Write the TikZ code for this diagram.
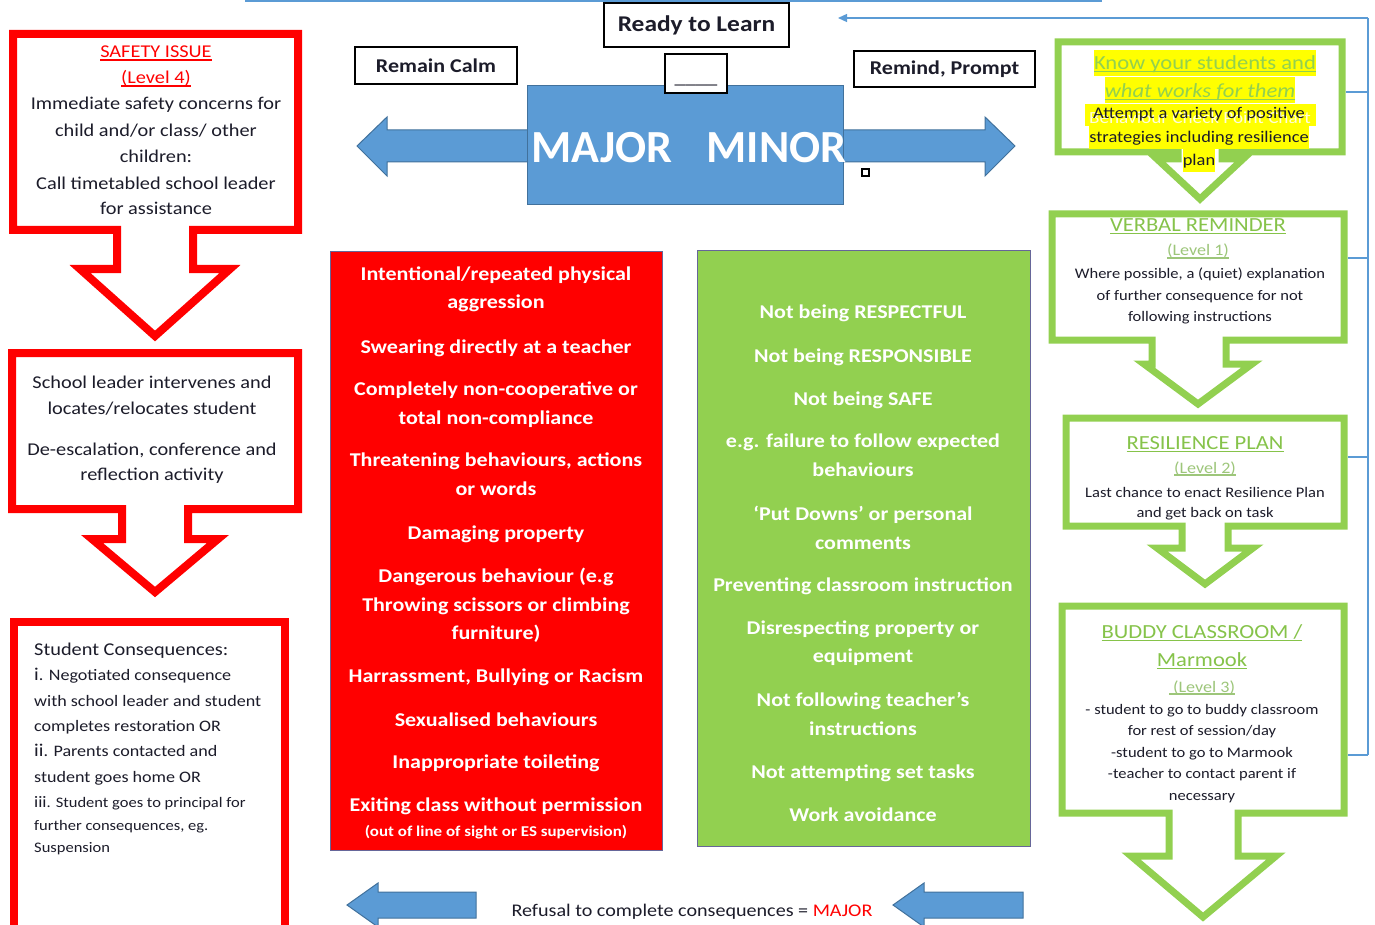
\documentclass[tikz,border=0pt]{standalone}
\usepackage{fontspec}
\setmainfont{Carlito}[FakeStretch=1.13]
\newfontfamily\plainf{Carlito}
\newcommand{\uln}[1]{\setbox0\hbox{#1}\leavevmode\rlap{\rule[-2.6pt]{\wd0}{1.4pt}}\box0}
\usetikzlibrary{arrows.meta}
\definecolor{bl}{HTML}{5B9BD5}
\definecolor{bldark}{HTML}{41719C}
\definecolor{rd}{HTML}{FF0000}
\definecolor{gr}{HTML}{92D050}
\definecolor{grt}{HTML}{86C34A}
\definecolor{grl}{HTML}{9DC67A}
\definecolor{txt}{HTML}{1C1C2A}
\definecolor{hl}{HTML}{FFFF00}
\newcommand{\fs}[2]{\fontsize{#1}{#2}\selectfont}
\newcommand{\tline}[5]{\node[#1] (#2) at (#3,#4) {#5};}
\begin{document}
\begin{tikzpicture}[x=1pt,y=-1pt,
  blackbox/.style={draw=black, line width=1.6pt, fill=white, inner sep=0pt, font=\fs{19.5}{24}\bfseries, text=txt},
  redflow/.style={draw=rd, line width=8pt, fill=white, line join=miter, miter limit=10},
  greenflow/.style={draw=gr, line width=7pt, fill=white, line join=miter, miter limit=10},
  bluearrow/.style={fill=bl, draw=bldark, line width=1pt, line join=miter},
  conn/.style={draw=bl, line width=1.3pt},
  bt/.style={anchor=base, inner sep=0pt},
  majt/.style={bt, text=white, font=\fs{19.5}{22}\bfseries},
  majs/.style={bt, text=white, font=\fs{15}{16}\bfseries},
  lt/.style={bt, text=txt, font=\fs{18}{22}},
  lth/.style={bt, text=rd, font=\fs{18}{22}},
  ct/.style={bt, anchor=base west, text=txt, font=\fs{16}{20}},
  cts/.style={bt, anchor=base west, text=txt, font=\fs{14.6}{18}},
  gh/.style={bt, text=grt, font=\fs{20}{24}},
  ghl/.style={bt, text=grl, font=\fs{16}{20}},
  gt/.style={bt, text=txt, font=\fs{14.6}{18}},
]
\useasboundingbox (0,0) rectangle (1375,925);

% top thin line
\draw[conn, line width=2pt] (245,1) -- (1102,1);

% ---------- blue double arrow and centre box ----------
\draw[bluearrow] (357,146) -- (387,117) -- (387,130) -- (985,130) -- (985,117) -- (1015,146)
  -- (985,176) -- (985,162) -- (387,162) -- (387,176) -- cycle;
\node[fill=bl, draw=bldark, line width=1pt, minimum width=316pt, minimum height=119pt, inner sep=0pt] (mm) at (685,145.5) {};
\node[text=white, font=\plainf\fs{46}{50}\bfseries, inner sep=0pt] (mmt) at (689,148) {MAJOR\hspace{34pt}MINOR};
\node[draw=black, line width=1.2pt, minimum size=7pt, inner sep=0pt] (sq) at (865.5,172.5) {};

% ---------- black label boxes ----------
\node[blackbox, minimum width=185pt, minimum height=44pt, font=\fs{22.5}{26}\bfseries] (rtl) at (696.5,25) {Ready to Learn};
\node[blackbox, minimum width=162pt, minimum height=37pt] (calm) at (436,65.5) {Remain Calm};
\node[blackbox, minimum width=181pt, minimum height=36pt] (rp) at (944.5,69) {Remind, Prompt};
\node[blackbox, minimum width=62pt, minimum height=39pt] (blank) at (696,73.5) {};
\node[bt, font=\fs{19}{22}, text=txt] (blanktxt) at (696,84) {\_\_\_\_};

% ---------- red MAJOR box ----------
\node[fill=rd, draw=gray!80!blue, line width=1pt, minimum width=332pt, minimum height=598pt, inner sep=0pt] (redbox) at (496,551) {};
\tline{majt}{r1}{496}{280}{Intentional/repeated physical}
\tline{majt}{r2}{496}{308}{aggression}
\tline{majt}{r3}{496}{353}{Swearing directly at a teacher}
\tline{majt}{r4}{496}{395}{Completely non-cooperative or}
\tline{majt}{r5}{496}{424}{total non-compliance}
\tline{majt}{r6}{496}{466}{Threatening behaviours, actions}
\tline{majt}{r7}{496}{495}{or words}
\tline{majt}{r8}{496}{539}{Damaging property}
\tline{majt}{r9}{496}{582}{Dangerous behaviour (e.g}
\tline{majt}{r10}{496}{611}{Throwing scissors or climbing}
\tline{majt}{r11}{496}{639}{furniture)}
\tline{majt}{r12}{496}{682}{Harrassment, Bullying or Racism}
\tline{majt}{r13}{496}{726}{Sexualised behaviours}
\tline{majt}{r14}{496}{768}{Inappropriate toileting}
\tline{majt}{r15}{496}{811}{Exiting class without permission}
\tline{majs}{r16}{496}{836}{(out of line of sight or ES supervision)}

% ---------- green MINOR box ----------
\node[fill=gr, draw=gray!80!blue, line width=1pt, minimum width=333pt, minimum height=595pt, inner sep=0pt] (greenbox) at (863.5,548.5) {};
\tline{majt}{m1}{863}{318}{Not being RESPECTFUL}
\tline{majt}{m2}{863}{362}{Not being RESPONSIBLE}
\tline{majt}{m3}{863}{405}{Not being SAFE}
\tline{majt}{m4}{863}{447}{e.g. failure to follow expected}
\tline{majt}{m5}{863}{476}{behaviours}
\tline{majt}{m6}{863}{520}{‘Put Downs’ or personal}
\tline{majt}{m7}{863}{549}{comments}
\tline{majt}{m8}{863}{591}{Preventing classroom instruction}
\tline{majt}{m9}{863}{634}{Disrespecting property or}
\tline{majt}{m10}{863}{662}{equipment}
\tline{majt}{m11}{863}{706}{Not following teacher’s}
\tline{majt}{m12}{863}{735}{instructions}
\tline{majt}{m13}{863}{778}{Not attempting set tasks}
\tline{majt}{m14}{863}{821}{Work avoidance}

% ---------- left red flow ----------
\draw[redflow] (13,34) -- (298,34) -- (298,230) -- (193,230) -- (193,269) -- (230,269) -- (155,336)
  -- (80,269) -- (117,269) -- (117,230) -- (13,230) -- cycle;
\tline{lth}{s1}{156}{58}{\uln{SAFETY ISSUE}}
\tline{lth}{s2}{156}{84}{\uln{(Level 4)}}
\tline{lt}{s3}{156}{110}{Immediate safety concerns for}
\tline{lt}{s4}{156}{137}{child and/or class/ other}
\tline{lt}{s5}{156}{163}{children:}
\tline{lt}{s6}{156}{190}{Call timetabled school leader}
\tline{lt}{s7}{156}{215}{for assistance}

\draw[redflow] (12,353) -- (298,353) -- (298,509) -- (188,509) -- (188,539) -- (218,539) -- (155,592)
  -- (92,539) -- (122,539) -- (122,509) -- (12,509) -- cycle;
\tline{lt}{l1}{152}{388}{School leader intervenes and}
\tline{lt}{l2}{152}{414}{locates/relocates student}
\tline{lt}{l3}{152}{455}{De-escalation, conference and}
\tline{lt}{l4}{152}{480}{reflection activity}

\draw[redflow] (14,622) rectangle (285,940);
\tline{ct}{c1}{34}{655}{\fs{18}{22}Student Consequences:}
\tline{ct}{c2}{34}{680}{{\fs{18}{22}i}. Negotiated consequence}
\tline{ct}{c3}{34}{706}{with school leader and student}
\tline{ct}{c4}{34}{731}{completes restoration OR}
\tline{ct}{c5}{34}{756}{{\fs{18}{22}ii}. Parents contacted and}
\tline{ct}{c6}{34}{782}{student goes home OR}
\tline{cts}{c7}{34}{807}{{\fs{16}{20}iii}. Student goes to principal for}
\tline{cts}{c8}{34}{830}{further consequences, eg.}
\tline{cts}{c9}{34}{852}{Suspension}

% ---------- right green flow ----------
\draw[greenflow] (1058,42) -- (1342,42) -- (1342,152) -- (1222,152) -- (1222,159) -- (1243,159) -- (1200,199)
  -- (1157,159) -- (1178,159) -- (1178,152) -- (1058,152) -- cycle;
\node[bt, fill=hl, text=gr, font=\fs{20}{24}, text height=19.5pt, text depth=6.5pt] (k1) at (1205,69.5) {\uln{Know your students and}};
\node[bt, fill=hl, text=gr, font=\fs{20}{24}\itshape, text height=20.5pt, text depth=5.5pt] (k2) at (1200,97.5) {\uln{what works for them}};
\node[bt, fill=hl, minimum width=231pt, text height=15pt, text depth=7pt, font=\fs{15.5}{18}] (k3bg) at (1200.5,119) {};
\node[bt, text=white!85!yellow, font=\fs{17}{20}] (k3ghost) at (1200,124) {Behaviour Check Point Chart};
\node[bt, text=txt, font=\fs{16.3}{18}] (k3) at (1199,119) {Attempt a variety of positive};
\node[bt, fill=hl, text=txt, font=\fs{16.3}{18}, text height=17pt, text depth=6pt] (k4) at (1199,143) {strategies including resilience};
\node[bt, fill=hl, text=txt, font=\fs{16.3}{18}, text height=17pt, text depth=6pt] (k5) at (1199,166) {plan};

\draw[greenflow] (1052,214) -- (1344,214) -- (1344,340) -- (1226,340) -- (1226,364) -- (1252,364) -- (1198,404)
  -- (1144,364) -- (1152,364) -- (1152,340) -- (1052,340) -- cycle;
\tline{gh}{v1}{1198}{231.5}{\uln{VERBAL REMINDER}}
\tline{ghl}{v2}{1198}{256}{\uln{(Level 1)}}
\tline{gt}{v3}{1200}{278}{Where possible, a (quiet) explanation}
\tline{gt}{v4}{1200}{300}{of further consequence for not}
\tline{gt}{v5}{1200}{321}{following instructions}

\draw[greenflow] (1066,418) -- (1344,418) -- (1344,526) -- (1228,526) -- (1228,548) -- (1253,548) -- (1205,584)
  -- (1157,548) -- (1182,548) -- (1182,526) -- (1066,526) -- cycle;
\tline{gh}{p1}{1205}{449.5}{\uln{RESILIENCE PLAN}}
\tline{ghl}{p2}{1205}{473}{\uln{(Level 2)}}
\tline{gt}{p3}{1205}{497}{Last chance to enact Resilience Plan}
\tline{gt}{p4}{1205}{517}{and get back on task}

\draw[greenflow] (1062,606) -- (1344,606) -- (1344,813) -- (1238,813) -- (1238,856) -- (1276,856) -- (1203,917)
  -- (1131,856) -- (1169,856) -- (1169,813) -- (1062,813) -- cycle;
\tline{gh}{b1}{1202}{638.5}{\uln{BUDDY CLASSROOM /}}
\tline{gh}{b2}{1202}{666.5}{\uln{Marmook}}
\tline{ghl}{b3}{1202}{692}{\uln{ (Level 3)}}
\tline{gt}{b4}{1202}{714}{- student to go to buddy classroom}
\tline{gt}{b5}{1202}{735}{for rest of session/day}
\tline{gt}{b6}{1202}{757}{-student to go to Marmook}
\tline{gt}{b7}{1202}{778}{-teacher to contact parent if}
\tline{gt}{b8}{1202}{800}{necessary}

% ---------- right connector ----------
\coordinate (ctop) at (1368,18);
\coordinate (ctip) at (838,18);
\coordinate (cbot) at (1368,755);
\coordinate (e1) at (1346,92);   \coordinate (f1) at (1368,92);
\coordinate (e2) at (1348,258);  \coordinate (f2) at (1368,258);
\coordinate (e3) at (1348,457);  \coordinate (f3) at (1368,457);
\coordinate (e4) at (1348,755);
\draw[conn, -{Triangle[length=9pt,width=8pt]}] (ctop) -- (ctip);
\draw[conn] (ctop) -- (cbot);
\draw[conn] (e1) -- (f1);
\draw[conn] (e2) -- (f2);
\draw[conn] (e3) -- (f3);
\draw[conn] (e4) -- (cbot);

% ---------- bottom ----------
\draw[bluearrow] (347,905) -- (378,883) -- (378,892) -- (476,892) -- (476,918) -- (378,918) -- (378,927) -- cycle;
\draw[bluearrow] (893,905) -- (924,883) -- (924,892) -- (1023,892) -- (1023,918) -- (924,918) -- (924,927) -- cycle;
\node[bt, text=txt, font=\fs{17.8}{20}] (refuse) at (692,916) {Refusal to complete consequences = \textcolor{rd}{MAJOR}};
\end{tikzpicture}
\end{document}
